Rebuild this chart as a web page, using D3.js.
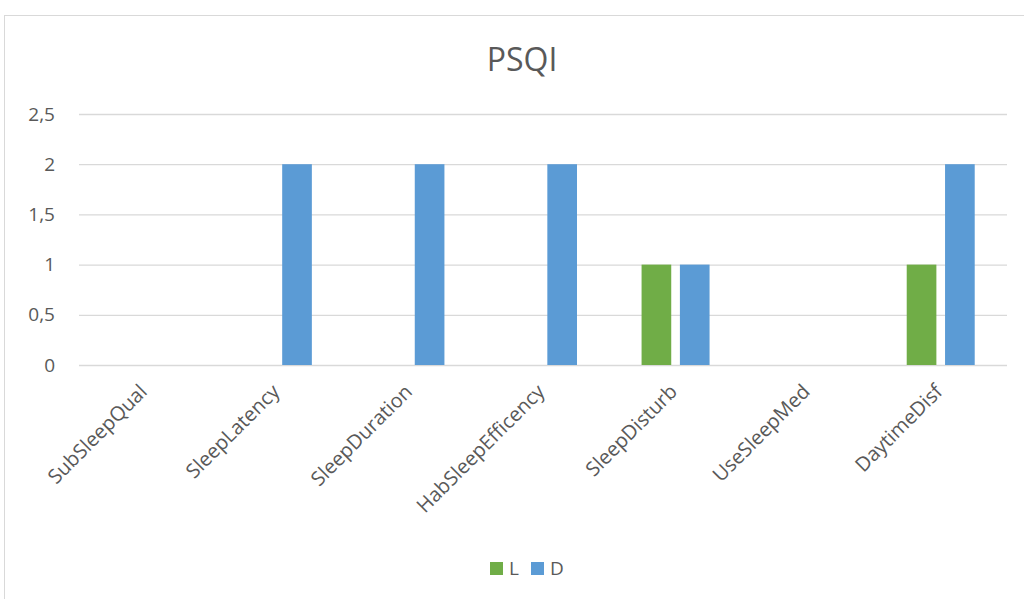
<!DOCTYPE html>
<html>
<head>
<meta charset="utf-8">
<script src="https://cdn.jsdelivr.net/npm/d3@7"></script>
<style>
  html, body { margin: 0; padding: 0; background: #fff; }
  svg { display: block; font-family: "Open Sans", "Noto Sans", sans-serif; }
</style>
</head>
<body>
<svg id="chart" width="1024" height="599"></svg>
<script>
// PSQI component scores for the two groups
const categories = ["SubSleepQual", "SleepLatency", "SleepDuration", "HabSleepEfficency",
                    "SleepDisturb", "UseSleepMed", "DaytimeDisf"];
const seriesNames = ["L", "D"];
const valuesL = [0, 0, 0, 0, 1, 0, 1];
const valuesD = [0, 2, 2, 2, 1, 0, 2];
const yTicks = [0, 0.5, 1, 1.5, 2, 2.5];
const seriesColors = ["#70AD47", "#5B9BD5"];

const svg = d3.select("#chart");
const textColor = "#595959";
const gridColor = "#d9d9d9";

// outer chart frame
svg.append("rect")
  .attr("x", 4.5).attr("y", 15.5)
  .attr("width", 1040).attr("height", 600)
  .attr("fill", "#fff").attr("stroke", gridColor).attr("stroke-width", 1);

const plot = { left: 79, right: 1007, top: 114, bottom: 365 };

const x = d3.scaleBand().domain(categories).range([plot.left, plot.right]);
// the pair of bars sits centred in each category
const pairWidth = 68;
const inner = d3.scaleBand().domain(seriesNames)
  .range([x.bandwidth() / 2 - pairWidth / 2, x.bandwidth() / 2 + pairWidth / 2])
  .paddingInner(0.226);
const y = d3.scaleLinear().domain([0, 2.5]).range([plot.bottom, plot.top]);

// horizontal gridlines and value labels
const yAxis = d3.axisLeft(y).tickValues(yTicks)
  .tickSize(-(plot.right - plot.left))
  .tickFormat(d => String(d).replace(".", ","));
const gy = svg.append("g").attr("transform", `translate(${plot.left},0)`).call(yAxis)
  .attr("font-family", null);
gy.select(".domain").remove();
gy.selectAll(".tick line").attr("stroke", gridColor).attr("stroke-width", 1.3);
gy.selectAll(".tick text").attr("x", -24).attr("fill", textColor)
  .style("font-size", "19px");

// bars
const rows = categories.map((c, i) => ({ cat: c, L: valuesL[i], D: valuesD[i] }));
const groups = svg.append("g").selectAll("g").data(rows).join("g")
  .attr("transform", d => `translate(${x(d.cat)},0)`);
groups.selectAll("rect")
  .data(d => seriesNames.map((s, j) => ({ s, v: d[s], color: seriesColors[j] })))
  .join("rect")
  .attr("x", d => inner(d.s))
  .attr("width", inner.bandwidth())
  .attr("y", d => y(d.v))
  .attr("height", d => y(0) - y(d.v))
  .attr("fill", d => d.color);

// category labels, rotated
const xAxis = d3.axisBottom(x).tickSize(0).tickPadding(0);
const gx = svg.append("g").attr("transform", `translate(0,${plot.bottom})`).call(xAxis)
  .attr("font-family", null);
gx.select(".domain").remove();
gx.selectAll(".tick text")
  .attr("fill", textColor).style("font-size", "20px")
  .attr("text-anchor", "end")
  .attr("dy", "0.35em")
  .attr("transform", "translate(-2,23) rotate(-45)");

// title
svg.append("text")
  .attr("x", 522).attr("y", 71)
  .attr("text-anchor", "middle")
  .attr("fill", textColor)
  .style("font-size", "32px")
  .text("PSQI");

// legend
const legend = svg.append("g").attr("transform", "translate(490,562)");
const item = legend.selectAll("g").data(seriesNames).join("g")
  .attr("transform", (d, i) => `translate(${i * 41},0)`);
item.append("rect").attr("width", 13).attr("height", 13)
  .attr("fill", (d, i) => seriesColors[i]);
item.append("text").attr("x", 19).attr("y", 13)
  .attr("fill", textColor).style("font-size", "19px")
  .text(d => d);
</script>
</body>
</html>
